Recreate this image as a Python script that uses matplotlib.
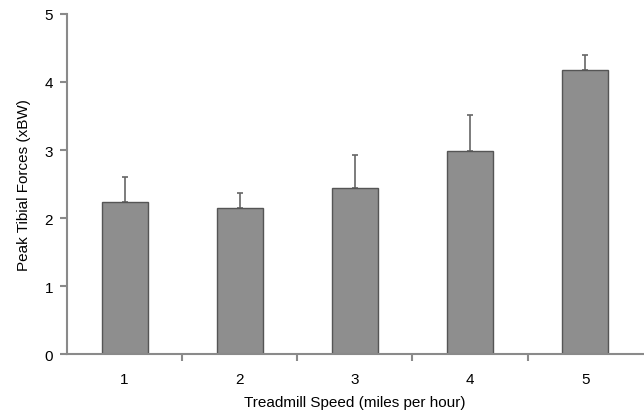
import matplotlib
matplotlib.use("Agg")
import matplotlib.pyplot as plt

# Data
speeds = [1, 2, 3, 4, 5]
peak_force = [2.24, 2.15, 2.44, 2.99, 4.17]
force_sd = [0.36, 0.22, 0.49, 0.52, 0.22]

plt.rcParams['font.family'] = ['Liberation Sans', 'DejaVu Sans']
AXIS_GREY = "#8a8a8a"

fig = plt.figure(figsize=(6.44, 4.14), dpi=100)
ax = fig.add_axes([0.104, 0.142, 0.894, 0.822])

ax.bar(speeds, peak_force, width=0.4, color="#8e8e8e", edgecolor="#555555",
       linewidth=1.0, zorder=2)
ax.errorbar(speeds, peak_force, yerr=[[0] * len(force_sd), force_sd], fmt="none",
            ecolor="#666666", elinewidth=1.2, capsize=2.5, capthick=1.2, zorder=1)

ax.set_xlim(0.5, 5.5)
ax.set_ylim(0, 5)
ax.set_yticks([0, 1, 2, 3, 4, 5])
ax.set_xticks(speeds)
ax.set_xticks([1.5, 2.5, 3.5, 4.5], minor=True)
ax.tick_params(axis="x", which="major", length=0, pad=13, labelsize=11)
ax.tick_params(axis="x", which="minor", length=5, width=1.5, color=AXIS_GREY, direction="out")
ax.tick_params(axis="y", length=5, width=1.5, color=AXIS_GREY, labelsize=11, pad=5)

for side in ["top", "right"]:
    ax.spines[side].set_visible(False)
for side in ["left", "bottom"]:
    ax.spines[side].set_color(AXIS_GREY)
    ax.spines[side].set_linewidth(1.5)

ax.set_xlabel("Treadmill Speed (miles per hour)", fontsize=11, labelpad=6)
ax.set_ylabel("Peak Tibial Forces (xBW)", fontsize=11, labelpad=10)

fig.savefig("out.png", dpi=100)
